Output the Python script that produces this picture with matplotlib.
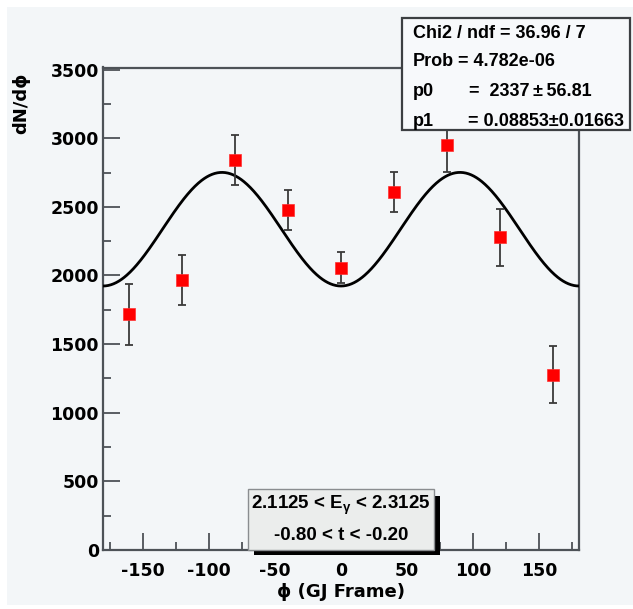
import numpy as np
import matplotlib
matplotlib.use("Agg")
import matplotlib.pyplot as plt
from matplotlib.patches import Rectangle

# phi bins (GJ frame) and yields
phi = [-160, -120, -80, -40, 0, 40, 80, 120, 160]
counts = [1719, 1964, 2840, 2477, 2058, 2605, 2948, 2277, 1276]
errors = [222, 182, 183, 146, 115, 146, 197, 207, 207]

# fit result
p0, p0_err = 2337, 56.81
p1, p1_err = 0.08853, 0.01663
chi2, ndf = 36.96, 7
prob = 4.782e-06

W, H = 633, 609
BG = "#f3f6f8"
plt.rcParams["font.family"] = ["DejaVu Sans"]
plt.rcParams["font.weight"] = "bold"
plt.rcParams["axes.unicode_minus"] = False
plt.rcParams["mathtext.fontset"] = "custom"
plt.rcParams["mathtext.rm"] = "Liberation Sans:bold"
plt.rcParams["mathtext.it"] = "Liberation Sans:bold"
HELV = ["Liberation Sans", "DejaVu Sans"]

fig = plt.figure(figsize=(W / 100, H / 100), dpi=100, facecolor="white")


def fx(x):
    return x / W


def fy(y):
    return 1 - y / H


# canvas background
fig.add_artist(Rectangle((fx(7), fy(605)), fx(633) - fx(7), fy(7) - fy(605),
                         transform=fig.transFigure, facecolor=BG, edgecolor="none", zorder=0))

ax = fig.add_axes([fx(103), fy(550), fx(579) - fx(103), fy(67.5) - fy(550)])
ax.set_facecolor(BG)
ax.set_xlim(-180, 180)
ax.set_ylim(0, 3515)

xs = np.linspace(-180, 180, 721)
fit = p0 * (1 - 2 * p1 * np.cos(np.radians(2 * xs)))
ax.plot(xs, fit, color="black", lw=2.0, zorder=3)

ax.errorbar(phi, counts, yerr=errors, fmt="none", ecolor="#3a3a3a", elinewidth=1.3,
            capsize=3, capthick=1.3, zorder=4)
ax.plot(phi, counts, "s", color="#ff0000", markersize=8, markeredgewidth=0.5,
        markeredgecolor="#ff3030", zorder=5)

for side in ["left", "bottom", "top", "right"]:
    ax.spines[side].set_color("#4d5257")
    ax.spines[side].set_linewidth(1.6)

ax.set_xticks(np.arange(-150, 151, 50))
ax.set_xticks(np.arange(-175, 176, 50), minor=True)
ax.set_yticks(np.arange(0, 3501, 500))
ax.set_yticks(np.arange(250, 3500, 500), minor=True)
ax.tick_params(axis="both", which="both", direction="in", color="#4d5257", width=1.3)
ax.tick_params(axis="both", which="major", length=12, labelsize=12.5)
ax.tick_params(axis="both", which="minor", length=6)
ax.tick_params(axis="x", which="major", pad=9)
ax.tick_params(axis="y", which="major", pad=3)
for lab in ax.get_xticklabels() + ax.get_yticklabels():
    lab.set_fontweight("bold")

fig.text(fx(21), fy(103), "dN/dϕ", rotation=90, ha="center", va="center",
         fontsize=13, fontweight="bold")
fig.text(fx(341), fy(592), "ϕ (GJ Frame)", ha="center", va="center",
         fontsize=13, fontweight="bold")

# fit statistics box
fig.add_artist(Rectangle((fx(402), fy(130)), fx(630) - fx(402), fy(17.5) - fy(130),
                         transform=fig.transFigure, facecolor="#f7f9fb",
                         edgecolor="#3c3f42", lw=1.6, zorder=10))
st = dict(fontsize=13, fontweight="bold", family=HELV, va="center", ha="left", zorder=11)
fig.text(fx(413), fy(33), f"Chi2 / ndf = {chi2:.2f} / {ndf}", **st)
fig.text(fx(413), fy(62), "Prob", **st)
fig.text(fx(458), fy(62), f"= {prob:.3e}", **st)
fig.text(fx(413), fy(92), "p0", **st)
fig.text(fx(469), fy(92), f"=  {p0}\u2009±\u2009{p0_err:.2f}", **st)
fig.text(fx(413), fy(121), "p1", **st)
fig.text(fx(468), fy(121), f"= {p1:.5f}±{p1_err:.5f}", **st)

# kinematic cut box with drop shadow
fig.add_artist(Rectangle((fx(254), fy(555)), fx(440) - fx(254), fy(496) - fy(555),
                         transform=fig.transFigure, facecolor="black",
                         edgecolor="none", zorder=10))
fig.add_artist(Rectangle((fx(248), fy(550)), fx(434) - fx(248), fy(489) - fy(550),
                         transform=fig.transFigure, facecolor="#ebedec",
                         edgecolor="#8a8d90", lw=1.0, zorder=11))
bt = dict(fontsize=13.5, fontweight="bold", family=HELV, va="center", ha="center", zorder=12)
fig.text(fx(341), fy(505), r"2.1125 < E$_{\gamma}$ < 2.3125", **bt)
fig.text(fx(341), fy(535), "-0.80 < t < -0.20", **bt)

fig.savefig("out.png", dpi=100, facecolor="white")
